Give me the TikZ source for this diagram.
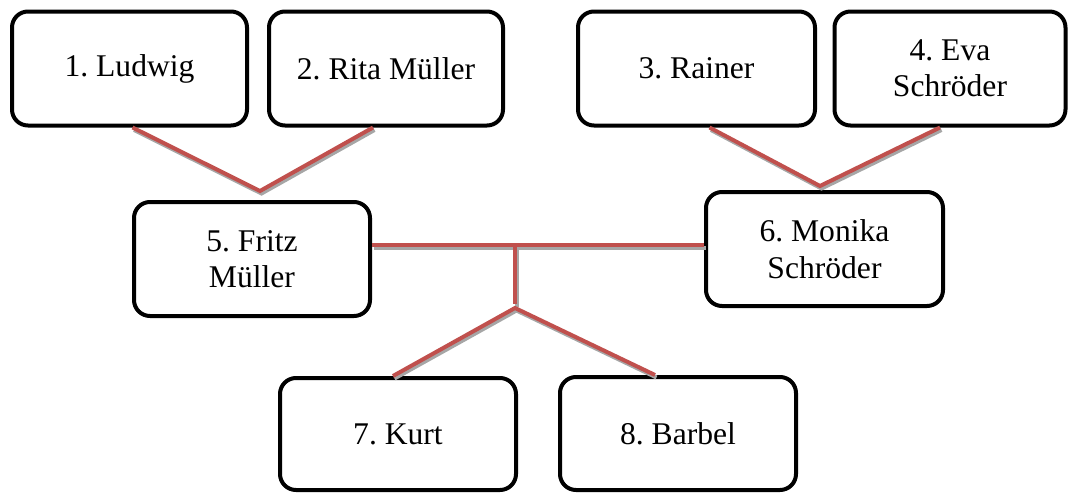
\documentclass[tikz,border=0pt]{standalone}
\usepackage{fontspec}
\setmainfont{Liberation Serif}
\frenchspacing
\definecolor{linkred}{HTML}{C0504D}
\definecolor{shadowgray}{HTML}{A6A6A6}
\begin{document}
\begin{tikzpicture}[x=1pt,y=-1pt,
  person/.style={draw=black, line width=4pt, rounded corners=16pt, fill=white,
    align=center, inner sep=0pt, font=\fontsize{31.6}{36.5}\selectfont\frenchspacing},
  link/.style={draw=linkred, line width=4pt,
    preaction={draw=shadowgray, line width=4pt, transform canvas={shift={(1.5,2.5)}}}}]
\useasboundingbox (0,0) rectangle (1072,493);
\node[person, minimum width=235pt, minimum height=114pt] (n1) at (129.5,68.5) {1. Ludwig};
\node[person, minimum width=234pt, minimum height=114pt] (n2) at (386,68.5) {2. Rita Müller};
\node[person, minimum width=237pt, minimum height=114pt] (n3) at (696.5,68.5) {3. Rainer};
\node[person, minimum width=231pt, minimum height=114pt] (n4) at (950,68.5) {4. Eva\\Schröder};
\node[person, minimum width=236pt, minimum height=114pt] (n5) at (252,259) {5. Fritz\\Müller};
\node[person, minimum width=237pt, minimum height=114pt] (n6) at (824.5,249) {6. Monika\\Schröder};
\node[person, minimum width=236pt, minimum height=112pt] (n7) at (398,434) {7. Kurt};
\node[person, minimum width=236pt, minimum height=113pt] (n8) at (678,433.5) {8. Barbel};
\coordinate (a1) at (260,191);
\coordinate (a2) at (820,186);
\coordinate (hm) at (515,245);
\coordinate (vb) at (515,304);
\coordinate (a3) at (515,308);
\draw[link] ([xshift=3pt]n1.south) -- (a1) -- ([xshift=-13pt]n2.south);
\draw[link] ([xshift=13pt]n3.south) -- (a2) -- ([xshift=-10pt]n4.south);
\draw[link] (n5.east |- hm) -- (n6.west |- hm);
\draw[link] (hm) -- (vb);
\draw[link] ([xshift=-5pt]n7.north) -- (a3) -- ([xshift=-23pt]n8.north);
\end{tikzpicture}
\end{document}
